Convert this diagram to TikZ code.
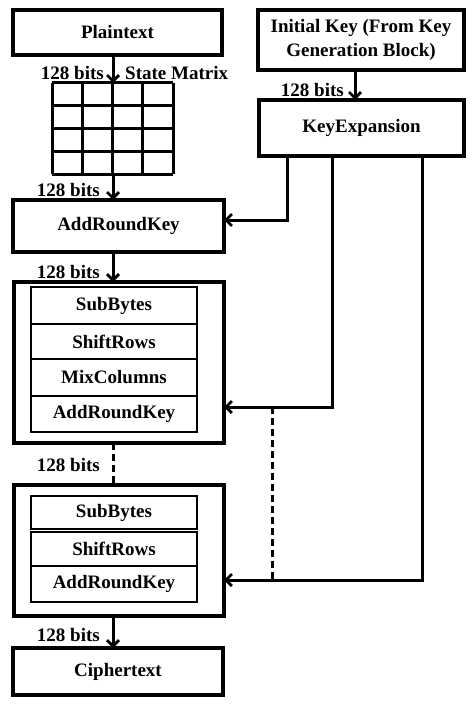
\documentclass[tikz,border=0pt]{standalone}
\usepackage{fontspec}
\setmainfont{Liberation Serif}
\usetikzlibrary{arrows.meta}
\begin{document}
\begin{tikzpicture}[x=1pt,y=-1pt,
  box/.style={draw,line width=3.2pt,inner sep=0pt,outer sep=0pt,align=center,
    font=\fontsize{19}{24}\selectfont\bfseries},
  ibox/.style={box,line width=2.8pt},
  lbl/.style={inner sep=0pt,font=\fontsize{19}{24}\selectfont\bfseries},
  arr/.style={line width=3pt,-{Straight Barb[length=6pt,width=12pt,line width=2.8pt]}},
  ln/.style={line width=3pt},
  dsh/.style={line width=3pt,dash pattern=on 7pt off 4pt}]
\useasboundingbox (0,0) rectangle (474,706);
% boxes
\node[box,minimum width=209pt,minimum height=45pt] (plain) at (117.5,32.5) {Plaintext};
\node[box,minimum width=206pt,minimum height=60pt] (init) at (361,40) {Initial Key (From Key\\Generation Block)};
\node[box,minimum width=205pt,minimum height=56pt] (kexp) at (361.5,128) {KeyExpansion};
\node[inner sep=0pt,outer sep=0pt,minimum width=121pt,minimum height=91pt] (mat) at (112.5,128.5) {};
\foreach \i in {0,1,2,3,4} {
  \draw[line width=3pt] (52+30.25*\i,83) -- (52+30.25*\i,174);
  \draw[line width=3pt] (52,83+22.75*\i) -- (173,83+22.75*\i);
}
\node[box,minimum width=211pt,minimum height=52pt] (ark0) at (118.5,226) {AddRoundKey};
% round 1
\node[box,minimum width=210pt,minimum height=161pt] (r1) at (119,362.5) {};
\node[ibox,minimum width=166pt,minimum height=37pt] (sb1) at (114,305.5) {SubBytes};
\node[ibox,minimum width=166pt,minimum height=35pt] (sr1) at (114,341.5) {ShiftRows};
\node[ibox,minimum width=166pt,minimum height=37pt] (mc1) at (114,377.5) {MixColumns};
\node[ibox,minimum width=166pt,minimum height=36pt] (ark1) at (114,414) {AddRoundKey};
% round 2
\node[box,minimum width=210pt,minimum height=131pt] (r2) at (119,550.5) {};
\node[ibox,minimum width=166pt,minimum height=33pt] (sb2) at (114,512.5) {SubBytes};
\node[ibox,minimum width=166pt,minimum height=34pt] (sr2) at (114,549) {ShiftRows};
\node[ibox,minimum width=166pt,minimum height=36pt] (ark2) at (114,584) {AddRoundKey};
\node[box,minimum width=210pt,minimum height=47pt] (ciph) at (118,671.5) {Ciphertext};
% coordinates
\coordinate (col) at (113,0);
\coordinate (kcol) at (355,0);
\coordinate (k0) at (287,220);
\coordinate (k1) at (332,407);
\coordinate (k2) at (422,580);
\coordinate (d1) at (272,407);
\coordinate (d2) at (272,580);
% connectors
\draw[arr] (col |- plain.south) -- (col |- mat.north);
\draw[arr] (col |- mat.south) -- (col |- ark0.north);
\draw[arr] (kcol |- init.south) -- (kcol |- kexp.north);
\draw[arr] (kexp.south -| k0) -- (k0) -- (k0 -| ark0.east);
\draw[arr] (col |- ark0.south) -- (col |- r1.north);
\draw[arr] (kexp.south -| k1) -- (k1) -- (k1 -| r1.east);
\draw[arr] (kexp.south -| k2) -- (k2) -- (k2 -| r2.east);
\draw[dsh] (d1) -- (d2);
\draw[dsh] (col |- r1.south) -- (col |- r2.north);
\draw[arr] (col |- r2.south) -- (col |- ciph.north);
% labels
\node[lbl,anchor=east] (l1) at (104,73) {128 bits};
\node[lbl,anchor=west] (sm) at (125,73) {State Matrix};
\node[lbl,anchor=east] (l2) at (100,190) {128 bits};
\node[lbl,anchor=east] (lk) at (344,90) {128 bits};
\node[lbl,anchor=east] (l3) at (100,272) {128 bits};
\node[lbl,anchor=east] (l4) at (100,465) {128 bits};
\node[lbl,anchor=east] (l5) at (100,635) {128 bits};
\end{tikzpicture}
\end{document}
